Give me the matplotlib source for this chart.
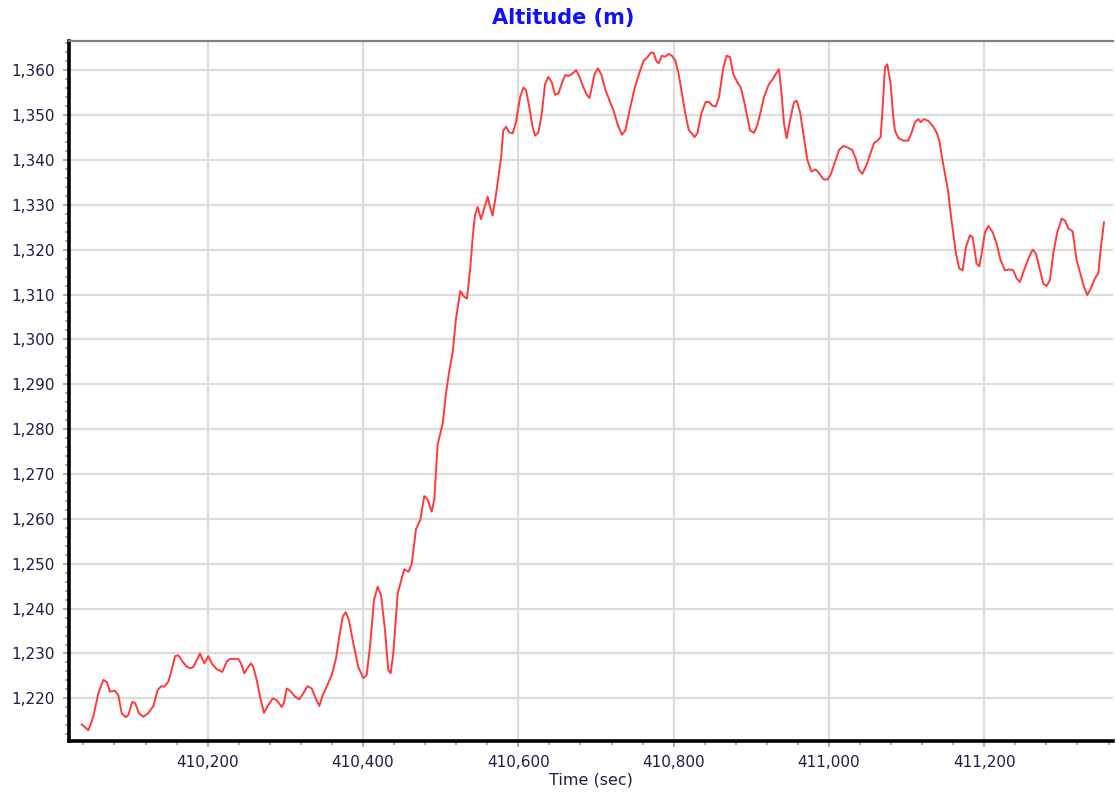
import numpy as np
import matplotlib.pyplot as plt
from matplotlib.ticker import MultipleLocator, FuncFormatter

# altitude trace (time in sec, altitude in m)
time_sec = [
    410037.8, 410046.3, 410052.7, 410059.1, 410065.6, 410070.0, 410074.2, 410080.6,
    410084.9, 410089.3, 410094.4, 410097.8, 410102.9, 410106.4, 410111.5, 410117.1,
    410123.5, 410130.0, 410135.6, 410139.9, 410144.1, 410149.3, 410153.6, 410157.9,
    410162.1, 410166.5, 410172.1, 410177.2, 410181.5, 410185.8, 410190.1, 410195.6,
    410200.8, 410205.2, 410211.6, 410218.8, 410224.5, 410228.7, 410239.4, 410242.9,
    410247.1, 410251.0, 410255.8,
    410258.7, 410263.1, 410267.3, 410272.5, 410278.0, 410283.7, 410288.8, 410295.3,
    410298.2, 410301.7, 410306.0, 410312.4, 410318.0, 410323.1, 410328.3, 410333.9,
    410339.1, 410343.7, 410348.1, 410353.2, 410359.7, 410365.2, 410369.5, 410373.8,
    410377.7, 410381.9, 410387.5, 410393.9, 410400.4, 410404.7, 410409.0, 410414.1,
    410418.9, 410423.2, 410428.3, 410432.6, 410435.6, 410439.0, 410444.7, 410449.8,
    410453.2, 410458.4, 410462.7, 410468.2, 410473.8, 410478.9, 410483.3, 410488.4,
    410491.8, 410496.1, 410502.6, 410506.9, 410511.2, 410515.5, 410519.7, 410525.3,
    410529.6, 410533.9, 410538.2, 410541.2, 410544.2, 410547.6, 410551.9, 410556.2,
    410560.5, 410563.9, 410566.9, 410571.2, 410574.7, 410577.7,
    410580.6, 410584.1, 410588.4, 410592.7, 410597.0, 410602.2, 410606.5, 410609.9,
    410614.2, 410618.1, 410621.5, 410625.8, 410630.1, 410634.4, 410638.7, 410643.0,
    410647.3, 410651.6, 410655.9, 410660.2, 410664.5, 410668.8, 410674.4, 410678.7,
    410683.9, 410688.2, 410691.6, 410694.6, 410698.1, 410702.4, 410706.7, 410711.8,
    410718.3, 410722.6, 410727.7, 410733.3, 410737.6, 410744.1, 410750.5, 410756.1,
    410761.3, 410765.6, 410770.8, 410774.2, 410777.6, 410780.6, 410784.9, 410789.2,
    410793.5, 410797.8, 410802.2, 410806.5, 410810.8, 410815.1, 410819.4,
    410827.0, 410830.5, 410835.6, 410841.2, 410845.5, 410849.8, 410854.1, 410858.4,
    410864.0, 410868.2, 410872.5, 410876.8, 410882.0, 410886.3, 410890.6, 410894.8,
    410898.3, 410903.4, 410907.7, 410912.0, 410916.3, 410922.7, 410927.0, 410931.3,
    410935.6, 410938.6, 410942.1, 410945.5, 410949.8, 410955.0, 410958.4, 410962.7,
    410967.0, 410972.1, 410977.3, 410982.8, 410987.1, 410992.7, 410997.9, 411002.1,
    411007.3, 411012.9, 411018.5, 411023.6, 411030.0, 411034.3, 411038.6, 411042.9,
    411048.5, 411053.6, 411057.9, 411063.1, 411066.5,
    411069.1, 411072.1, 411075.1, 411079.4, 411082.8, 411085.0, 411089.3, 411095.7,
    411102.1, 411106.4, 411110.7, 411115.0, 411118.0, 411122.3, 411127.9, 411133.5,
    411138.6, 411142.1, 411145.1, 411149.4, 411153.6, 411156.7, 411160.1, 411163.5,
    411167.8, 411172.1, 411176.4, 411181.5, 411185.0, 411190.1, 411193.6, 411196.6,
    411200.9, 411205.2, 411210.7, 411215.9, 411221.0, 411226.6, 411233.0, 411237.3,
    411241.6, 411245.9, 411251.1, 411256.7, 411262.2, 411266.5, 411271.7, 411276.0,
    411280.3, 411284.5, 411288.8, 411294.0, 411299.6, 411303.9, 411308.2, 411313.7,
    411318.9, 411323.2, 411328.3, 411332.6, 411336.9, 411342.5, 411346.8, 411350.2,
    411354.1,
]
altitude_m = [
    1214.2, 1212.9, 1215.9, 1221.1, 1224.1, 1223.7, 1221.5, 1221.7,
    1220.7, 1216.7, 1215.8, 1216.3, 1219.2, 1219.0, 1216.7, 1215.9,
    1216.7, 1218.3, 1221.8, 1222.7, 1222.6, 1223.7, 1226.3, 1229.4,
    1229.6, 1228.5, 1227.2, 1226.7, 1227.0, 1228.5, 1230.0, 1227.8,
    1229.4, 1227.8, 1226.5, 1225.9, 1228.2, 1228.8, 1228.8, 1227.8,
    1225.6, 1226.7, 1227.8,
    1227.0, 1224.1, 1220.4, 1216.8, 1218.5, 1220.0, 1219.6, 1218.1,
    1219.0, 1222.2, 1221.7, 1220.4, 1219.8, 1221.1, 1222.7, 1222.2,
    1220.0, 1218.3, 1220.7, 1222.6, 1225.2, 1228.9, 1233.7, 1238.2,
    1239.2, 1237.4, 1232.3, 1227.0, 1224.5, 1225.2, 1231.5, 1241.9,
    1244.9, 1243.0, 1235.2, 1226.3, 1225.6, 1230.0, 1243.4, 1246.7,
    1248.8, 1248.2, 1249.9, 1257.7, 1259.8, 1265.1, 1264.3, 1261.6,
    1264.3, 1276.6, 1281.2, 1288.1, 1293.1, 1297.2, 1304.6, 1310.8,
    1309.6, 1309.1, 1316.1, 1322.7, 1327.6, 1329.5, 1326.8, 1329.3,
    1331.8, 1329.3, 1327.6, 1332.2, 1336.7, 1340.4,
    1346.5, 1347.4, 1346.1, 1345.9, 1348.4, 1353.9, 1356.1, 1355.6,
    1351.7, 1347.6, 1345.4, 1346.1, 1350.2, 1356.9, 1358.5, 1357.3,
    1354.5, 1354.8, 1357.0, 1358.9, 1358.7, 1359.1, 1360.0, 1358.5,
    1356.1, 1354.5, 1353.8, 1356.1, 1359.1, 1360.4, 1359.1, 1355.8,
    1352.8, 1351.0, 1348.0, 1345.6, 1346.5, 1351.7, 1356.5, 1359.5,
    1362.1, 1362.8, 1363.9, 1363.9, 1362.1, 1361.5, 1363.2, 1363.0,
    1363.6, 1363.2, 1362.1, 1359.1, 1354.7, 1350.2, 1346.7,
    1345.1, 1345.9, 1350.3, 1352.9, 1352.9, 1352.1, 1351.9, 1354.0,
    1360.6, 1363.2, 1362.9, 1359.1, 1357.3, 1356.2, 1353.2, 1349.6,
    1346.6, 1346.0, 1347.7, 1350.7, 1354.0, 1356.9, 1357.8, 1359.1,
    1360.2, 1355.4, 1348.1, 1344.8, 1348.8, 1352.9, 1353.2, 1350.7,
    1345.9, 1340.0, 1337.4, 1337.9, 1337.1, 1335.7, 1335.6, 1336.7,
    1339.3, 1342.2, 1343.1, 1342.8, 1342.2, 1340.4, 1337.8, 1336.9,
    1338.9, 1341.5, 1343.7, 1344.4, 1345.1,
    1351.7, 1360.6, 1361.3, 1356.9, 1349.5, 1346.5, 1344.9, 1344.3,
    1344.3, 1346.1, 1348.4, 1349.1, 1348.4, 1349.1, 1348.7, 1347.6,
    1346.1, 1344.3, 1341.0, 1336.9, 1332.8, 1328.0, 1323.6, 1319.1,
    1315.8, 1315.4, 1320.6, 1323.2, 1322.8, 1316.9, 1316.3, 1319.1,
    1323.9, 1325.3, 1323.9, 1321.3, 1317.6, 1315.4, 1315.6, 1315.4,
    1313.6, 1312.8, 1315.4, 1318.0, 1320.0, 1319.1, 1315.4, 1312.4,
    1311.9, 1313.2, 1319.1, 1323.9, 1326.9, 1326.5, 1324.7, 1324.1,
    1317.6, 1315.0, 1311.7, 1309.9, 1311.3, 1313.6, 1314.7, 1320.6,
    1326.1,
]

text_col = '#1e1e46'

fig = plt.figure(figsize=(11.16, 7.96), dpi=100)
ax = fig.add_axes([0.0614, 0.0691, 0.9359, 0.8794])

ax.plot(time_sec, altitude_m, color='#ff3a3a', lw=1.4, zorder=3)

ax.set_xlim(410020.8, 411365.7)
ax.set_ylim(1210.5, 1366.5)

ax.xaxis.set_major_locator(MultipleLocator(200))
ax.xaxis.set_minor_locator(MultipleLocator(40))
ax.yaxis.set_major_locator(MultipleLocator(10))
ax.yaxis.set_minor_locator(MultipleLocator(2))
fmt = FuncFormatter(lambda v, p: f'{v:,.0f}')
ax.xaxis.set_major_formatter(fmt)
ax.yaxis.set_major_formatter(fmt)

ax.grid(True, which='major', color='#dcdcdc', lw=1.6, zorder=0)
ax.tick_params(which='both', direction='out', color='#a0a0a0', width=1.2,
               labelsize=11, labelcolor=text_col)
ax.tick_params(which='major', length=4, pad=6)
ax.tick_params(which='minor', length=3)

for side in ['left', 'bottom']:
    ax.spines[side].set_color('black')
    ax.spines[side].set_linewidth(2.6)
ax.spines['top'].set_color('#808080')
ax.spines['top'].set_linewidth(1.6)
ax.spines['right'].set_visible(False)

ax.set_xlabel('Time (sec)', fontsize=11.5, color=text_col, labelpad=2)
fig.text(0.5045, 0.977, 'Altitude (m)', ha='center', va='center',
         fontsize=15, fontweight='bold', color='#1010ff')

fig.savefig('out.png', dpi=100)
